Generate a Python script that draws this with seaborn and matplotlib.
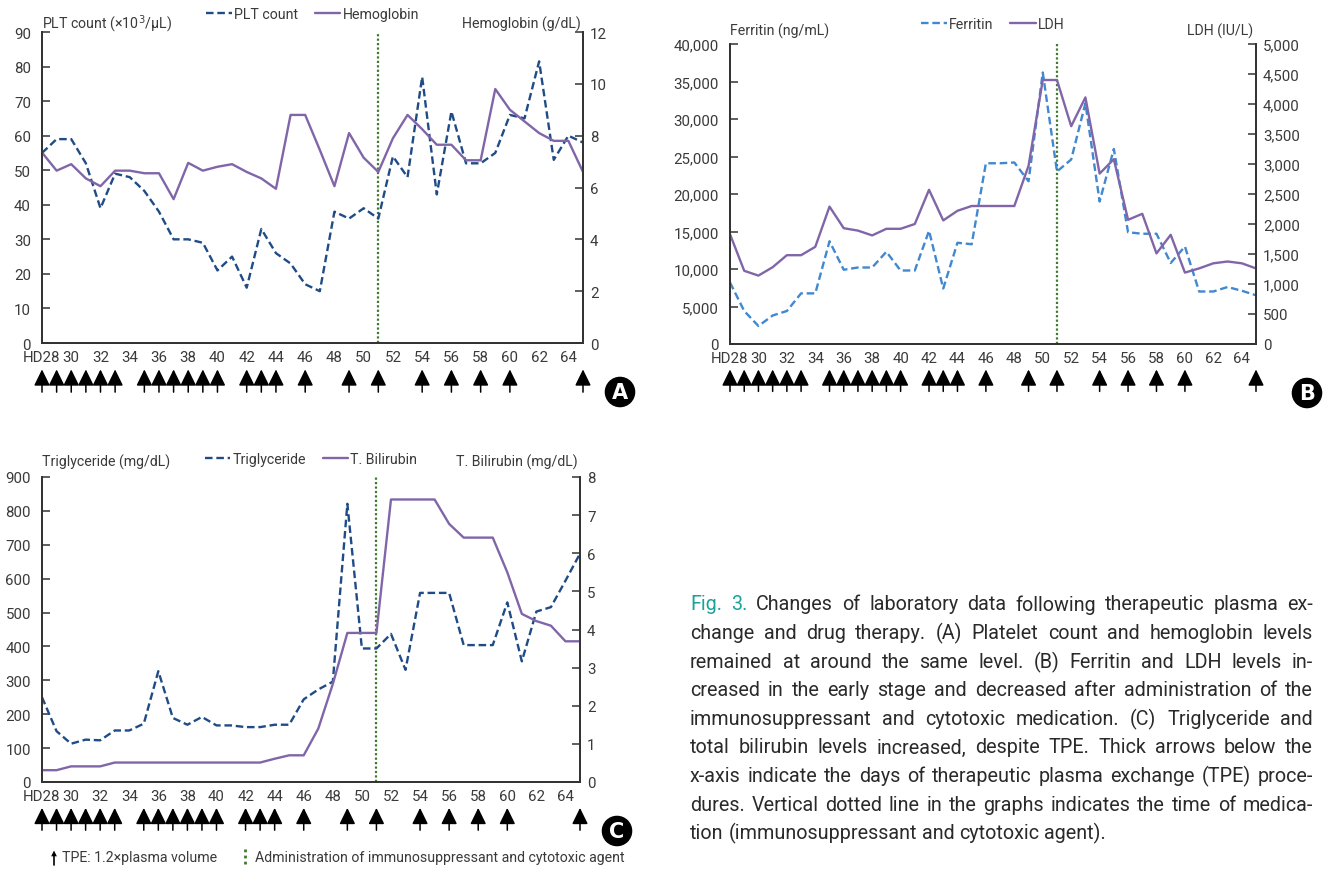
import numpy as np
import pandas as pd
import seaborn as sns
import matplotlib.pyplot as plt
from matplotlib.ticker import FuncFormatter
from matplotlib.lines import Line2D

sns.set_style("white")
plt.rcParams["font.family"] = ["Liberation Sans Narrow", "Roboto", "DejaVu Sans"]

days = list(range(28, 66))
tpe_days = [28, 29, 30, 31, 32, 33, 35, 36, 37, 38, 39, 40, 42, 43, 44, 46,
            49, 51, 54, 56, 58, 60, 65]
drug_day = 51

# A: platelets and hemoglobin
plt_count = [55, 59, 59, 52, 39, 49, 48, 44, 38, 30, 30, 29, 21, 25, 16, 33,
             26, 23, 17, 15, 38, 36, 39, 36, 54, 48, 77, 43, 67, 52, 52, 55,
             66, 65, 81.5, 53, 60, 58]
hemoglobin = [7.35, 6.65, 6.9, 6.35, 6.05, 6.65, 6.65, 6.55, 6.55, 5.55, 6.95,
              6.65, 6.8, 6.9, 6.6, 6.35, 5.95, 8.8, 8.8, 7.45, 6.05, 8.1, 7.15,
              6.6, 7.9, 8.8, 8.25, 7.65, 7.65, 7.05, 7.05, 9.8, 9.0, 8.55, 8.1,
              7.8, 7.8, 6.6]

# B: ferritin and LDH
ferritin = [8200, 4400, 2400, 3800, 4400, 6750, 6750, 13700, 9900, 10200,
            10200, 12300, 9800, 9800, 15100, 7400, 13500, 13300, 24100, 24100,
            24200, 21700, 36200, 23000, 24600, 32100, 19000, 26000, 14900,
            14700, 14700, 10800, 13000, 7000, 7000, 7600, 7100, 6500]
ldh = [1830, 1220, 1140, 1280, 1480, 1480, 1620, 2290, 1930, 1890, 1810, 1920,
       1920, 2000, 2570, 2060, 2220, 2300, 2300, 2300, 2300, 2970, 4400, 4400,
       3630, 4110, 2840, 3080, 2070, 2170, 1510, 1820, 1190, 1260, 1345, 1375,
       1345, 1260]

# C: triglyceride and total bilirubin
triglyceride = [250, 150, 113, 125, 123, 152, 152, 172, 327, 189, 169, 192,
                167, 167, 162, 162, 169, 169, 244, 273, 296, 821, 394, 394,
                437, 331, 558, 558, 558, 404, 404, 404, 530, 356, 503, 516,
                594, 674]
bilirubin = [0.31, 0.31, 0.41, 0.41, 0.41, 0.51, 0.51, 0.51, 0.51, 0.51, 0.51,
             0.51, 0.51, 0.51, 0.51, 0.51, 0.61, 0.7, 0.7, 1.4, 2.57, 3.91,
             3.91, 3.91, 7.41, 7.41, 7.41, 7.41, 6.77, 6.41, 6.41, 6.41, 5.5,
             4.41, 4.22, 4.1, 3.69, 3.69]

caption_lines = [
    "Fig. 3. Changes of laboratory data following therapeutic plasma ex-",
    "change and drug therapy. (A) Platelet count and hemoglobin levels",
    "remained at around the same level. (B) Ferritin and LDH levels in-",
    "creased in the early stage and decreased after administration of the",
    "immunosuppressant and cytotoxic medication. (C) Triglyceride and",
    "total bilirubin levels increased, despite TPE. Thick arrows below the",
    "x-axis indicate the days of therapeutic plasma exchange (TPE) proce-",
    "dures. Vertical dotted line in the graphs indicates the time of medica-",
    "tion (immunosuppressant and cytotoxic agent).",
]

df = pd.DataFrame({"day": days, "plt": plt_count, "hb": hemoglobin,
                   "ferritin": ferritin, "ldh": ldh,
                   "tg": triglyceride, "bil": bilirubin})

navy = "#1f4b86"
light_blue = "#4088d0"
purple = "#8066a8"
green = "#3f7a2e"
axis_col = "#333333"
text_col = "#3a3a3a"
dash = (0, (3.2, 1.6))
fs = 10.2

W, H = 1330, 870
fig = plt.figure(figsize=(W / 100, H / 100), dpi=100)


def px_axes(left, top, right, bottom):
    return fig.add_axes([left / W, 1 - bottom / H, (right - left) / W, (bottom - top) / H])


def comma(v, pos):
    return f"{int(v):,}"


def panel(box, left_col, left_style, left_label, left_max, left_step,
          right_col, right_label, right_max, right_step, names, colors,
          ylab_y, leg_y, letter, use_comma=False):
    ax = px_axes(*box)
    ax2 = ax.twinx()
    sns.lineplot(data=df, x="day", y=left_col, ax=ax, color=colors[0],
                 linestyle=left_style, lw=1.7)
    sns.lineplot(data=df, x="day", y=right_col, ax=ax2, color=colors[1], lw=1.7)
    ax.axvline(drug_day, color=green, linestyle=(0, (1, 1)), lw=1.6, zorder=1)

    ax.set_xlim(28, 65)
    ax.set_ylim(0, left_max)
    ax2.set_ylim(0, right_max)
    ax.set_yticks(np.arange(0, left_max + 1, left_step))
    ax2.set_yticks(np.arange(0, right_max + 0.001, right_step))
    ax.set_xticks(range(28, 65, 2))
    ax.set_xticklabels(["HD28"] + [str(d) for d in range(30, 65, 2)])
    if use_comma:
        ax.yaxis.set_major_formatter(FuncFormatter(comma))
        ax2.yaxis.set_major_formatter(FuncFormatter(comma))
    ax.set_xlabel("")
    ax.set_ylabel("")
    ax2.set_ylabel("")

    for a in (ax, ax2):
        a.spines["top"].set_visible(False)
        for s in a.spines.values():
            s.set_color(axis_col)
            s.set_linewidth(1.3)
        a.tick_params(direction="in", length=6, width=1.1, color=axis_col,
                      labelcolor=text_col, labelsize=10.8)
    ax.tick_params(axis="y", pad=8)
    ax.tick_params(axis="x", pad=5)
    ax2.tick_params(axis="y", pad=5)

    ax.text(0, ylab_y, left_label, transform=ax.transAxes, ha="left",
            va="center", fontsize=fs, color=text_col)
    ax.text(0.995, ylab_y, right_label, transform=ax.transAxes, ha="right",
            va="center", fontsize=fs, color=text_col)

    handles = [Line2D([], [], color=colors[0], linestyle=left_style, lw=1.7),
               Line2D([], [], color=colors[1], lw=1.7)]
    ax.legend(handles, names, loc="center", bbox_to_anchor=(0.5, leg_y),
              ncol=2, frameon=False, fontsize=fs, handlelength=1.8,
              handletextpad=0.15, columnspacing=1.2, labelcolor=text_col)

    trans = ax.get_xaxis_transform()
    for d in tpe_days:
        ax.annotate("", xy=(d, -0.085), xytext=(d, -0.158), xycoords=trans,
                    textcoords=trans, annotation_clip=False,
                    arrowprops=dict(arrowstyle="-|>,head_length=0.55,head_width=0.27",
                                    color="black", lw=1.1, mutation_scale=18,
                                    shrinkA=0, shrinkB=0))

    bx = box[2] + 37 if letter != "B" else box[2] + 51
    by = box[3] + 49
    fig.text(bx / W, 1 - by / H, letter, ha="center", va="center", color="white",
             fontsize=15, fontweight="bold", family="DejaVu Sans",
             bbox=dict(boxstyle="circle,pad=0.22", fc="black", ec="black"))
    return ax


panel((42, 33, 583, 344), "plt", dash, "PLT count (×10$^3$/μL)", 90, 10,
      "hb", "Hemoglobin (g/dL)", 12, 2, ["PLT count", "Hemoglobin"],
      [navy, purple], 1.027, 1.058, "A")
panel((730, 45, 1256, 345), "ferritin", dash, "Ferritin (ng/mL)", 40000, 5000,
      "ldh", "LDH (IU/L)", 5000, 500, ["Ferritin", "LDH"],
      [light_blue, purple], 1.045, 1.067, "B", use_comma=True)
panel((42, 478, 580, 783), "tg", dash, "Triglyceride (mg/dL)", 900, 100,
      "bil", "T. Bilirubin (mg/dL)", 8, 1, ["Triglyceride", "T. Bilirubin"],
      [navy, purple], 1.05, 1.06, "C")

# bottom key
fig.patches.append(plt.Polygon([[50 / W, 1 - 858 / H], [58 / W, 1 - 858 / H],
                                [54 / W, 1 - 850 / H]], closed=True, fc="black",
                               transform=fig.transFigure))
fig.add_artist(Line2D([54 / W, 54 / W], [1 - 857 / H, 1 - 866 / H], color="black",
                      lw=1.2, transform=fig.transFigure))
fig.text(62 / W, 1 - 858 / H, "TPE: 1.2×plasma volume", ha="left", va="center",
         fontsize=10.2, color=text_col)
fig.add_artist(Line2D([245 / W, 245 / W], [1 - 850 / H, 1 - 867 / H], color=green,
                      lw=2, linestyle=(0, (1, 1.2)), transform=fig.transFigure))
fig.text(255 / W, 1 - 858 / H, "Administration of immunosuppressant and cytotoxic agent",
         ha="left", va="center", fontsize=10.2, color=text_col)

# caption, justified word by word
renderer = fig.canvas.get_renderer()
cap_left, cap_right = 690, 1313
cap_fs = 14.5


def word_width(word, size):
    t = fig.text(0, 0, word, fontsize=size)
    w = t.get_window_extent(renderer).width
    t.remove()
    return w


widest = max(sum(word_width(w, cap_fs) for w in line.split()) +
             (len(line.split()) - 1) * word_width("a a", cap_fs) * 0.25
             for line in caption_lines[:-1])
if widest > cap_right - cap_left:
    cap_fs = cap_fs * (cap_right - cap_left) / widest * 0.995

space = word_width("a a", cap_fs) - 2 * word_width("a", cap_fs)
for i, line in enumerate(caption_lines):
    words = line.split()
    widths = [word_width(w, cap_fs) for w in words]
    y = 1 - (605 + i * 28.6) / H
    if i < len(caption_lines) - 1:
        gap = (cap_right - cap_left - sum(widths)) / (len(words) - 1)
    else:
        gap = space
    x = cap_left
    for j, (w, wd) in enumerate(zip(words, widths)):
        col = "#1aa39a" if (i == 0 and j < 2) else "#2a2a2a"
        fig.text(x / W, y, w, ha="left", va="center", fontsize=cap_fs, color=col)
        x += wd + gap

fig.savefig("out.png", dpi=100)
